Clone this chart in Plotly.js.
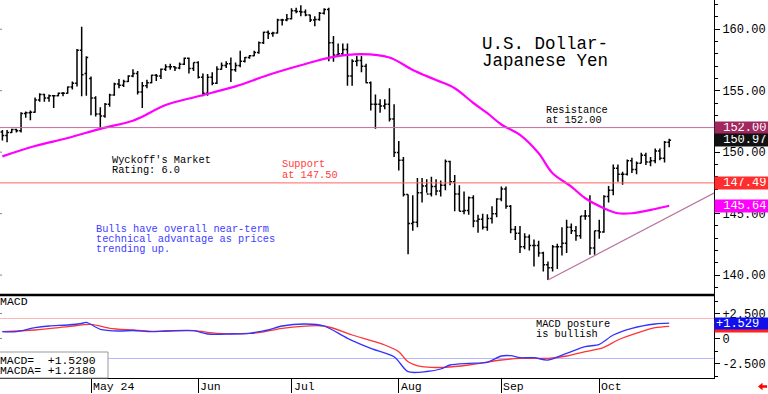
<!DOCTYPE html>
<html><head><meta charset="utf-8">
<script src="https://cdn.plot.ly/plotly-3.0.1.min.js"></script>
<style>html,body{margin:0;padding:0;background:#fff;overflow:hidden}#chart{width:768px;height:394px}</style>
</head><body><div id="chart"></div>
<script>
// ---------- DATA ----------
const firstDay = '2024-04-04';
const lastDay  = '2024-10-22';

const opens = [
151.65,151.35,151.60,151.85,151.75,153.15,153.20,153.25,154.25,154.70,154.40,154.60,154.60,154.80,154.80,155.30,155.60,158.30,156.40,
156.00,154.40,153.10,152.95,153.90,154.65,155.55,155.45,155.75,156.20,156.40,154.90,155.40,155.65,156.25,156.20,156.75,156.95,156.95,156.85,157.15,157.65,156.80,
157.30,156.10,154.80,156.10,155.60,156.75,157.05,157.20,156.70,157.05,157.40,157.70,157.85,158.10,158.90,159.75,159.65,159.70,160.75,160.75,
160.85,161.50,161.45,161.40,161.15,160.75,160.80,161.30,161.60,158.90,157.90,158.00,158.35,156.20,157.40,157.45,157.00,155.65,153.90,153.90,153.75,153.90,152.70,
149.98,149.35,146.55,144.20,144.30,146.70,147.25,146.60,147.20,146.85,147.30,149.25,147.60,146.60,145.20,145.25,146.30,144.40,144.55,143.90,144.60,145.00,
146.20,147.00,145.60,143.70,143.40,142.30,143.10,142.40,142.40,141.80,140.85,140.60,142.30,142.30,142.60,143.90,143.60,143.20,144.80,144.80,142.20,
143.60,143.50,146.40,146.90,148.70,148.20,148.20,149.30,148.60,149.10,149.75,149.20,149.30,150.10,149.50,150.80];
const highs = [
151.80,151.80,151.90,151.90,153.25,153.30,153.40,154.45,154.80,154.75,154.70,154.65,154.85,154.90,155.35,155.75,158.40,160.20,157.80,
156.15,154.55,153.65,154.00,154.75,155.65,155.95,155.90,156.25,156.75,156.60,155.70,155.90,156.30,156.35,156.80,157.15,157.20,157.00,157.30,157.70,157.70,157.30,
157.40,156.40,156.35,156.50,157.00,157.30,157.40,157.70,157.30,158.25,157.75,157.90,158.25,159.00,159.80,159.90,159.80,160.85,160.85,161.25,
161.70,161.75,161.95,161.60,161.20,161.05,161.40,161.70,161.75,159.45,158.85,158.85,158.85,157.55,157.85,157.85,157.20,155.75,154.70,154.30,154.30,155.20,153.90,
150.90,149.60,146.55,146.50,147.90,147.90,147.80,148.00,147.80,147.70,149.40,149.30,148.15,147.30,146.80,146.40,146.50,144.90,145.00,144.95,145.60,146.25,
147.20,147.20,145.70,144.00,144.00,143.40,143.30,142.90,142.80,141.90,141.10,142.45,142.55,143.90,144.50,144.20,144.00,144.80,145.30,146.50,143.60,
144.50,146.50,147.25,149.00,149.00,148.40,149.40,149.55,149.25,149.95,149.95,149.60,150.30,150.30,150.90,151.10];
const lows = [
150.95,150.80,151.55,151.60,151.60,152.80,152.60,153.20,154.10,154.10,154.10,153.60,154.55,154.55,154.75,155.10,155.35,154.55,154.60,
153.00,152.90,151.85,152.80,153.70,154.60,155.20,155.30,155.70,156.10,154.70,153.60,155.20,155.60,155.80,155.95,156.60,156.70,156.60,156.75,157.10,156.40,156.60,
156.00,154.55,154.60,155.45,155.55,156.70,156.85,155.70,156.55,156.90,157.30,157.60,157.80,158.00,158.80,159.20,159.40,159.65,160.30,160.65,
160.80,161.30,161.05,161.05,160.60,160.25,160.70,161.20,157.40,157.35,157.80,157.90,155.40,155.40,157.00,156.50,155.60,153.40,151.90,153.20,153.50,152.50,149.60,
148.50,146.40,141.70,143.60,143.90,145.90,146.70,146.40,146.50,146.40,146.90,147.30,145.20,145.20,144.95,144.90,143.90,143.45,143.70,143.60,144.20,144.70,
146.00,145.40,143.40,142.85,141.80,142.10,142.00,140.70,141.50,140.30,139.60,140.30,140.50,141.60,141.80,143.35,142.80,142.95,144.50,141.65,141.65,
142.95,143.45,145.90,146.50,147.60,147.35,148.10,148.30,148.20,149.10,148.95,148.85,149.10,149.35,149.15,150.40];
const closes = [
151.35,151.60,151.85,151.75,153.15,153.20,153.25,154.25,154.70,154.40,154.60,154.60,154.80,154.80,155.30,155.60,158.30,156.30,157.70,
154.40,153.10,152.95,153.90,154.65,155.55,155.45,155.75,156.20,156.40,154.90,155.40,155.65,156.25,156.20,156.75,156.95,156.95,156.85,157.15,157.65,156.80,157.30,
156.10,154.80,156.10,155.60,156.75,157.05,157.20,156.70,157.05,157.40,157.70,157.85,158.10,158.90,159.75,159.65,159.70,160.75,160.75,160.85,
161.50,161.45,161.40,161.15,160.75,160.80,161.30,161.60,158.90,157.90,158.00,158.35,156.20,157.40,157.45,157.00,155.65,153.90,153.90,153.75,153.90,152.70,149.98,
149.35,146.55,144.20,144.30,146.70,147.25,146.60,147.20,146.85,147.30,149.25,147.60,146.60,145.20,145.25,146.30,144.40,144.55,143.90,144.60,145.00,146.20,
147.00,145.60,143.70,143.40,142.30,143.10,142.40,142.40,141.80,140.85,140.60,142.30,142.30,142.60,143.90,143.60,143.20,144.80,144.80,142.20,143.60,
143.50,146.40,146.90,148.70,148.20,148.20,149.30,148.60,149.10,149.75,149.20,149.30,150.10,149.50,150.80,150.97];

// moving average (magenta) read at sample dates
const maDates = ['2024-04-04','2024-04-15','2024-04-24','2024-05-03','2024-05-14','2024-05-16','2024-05-23','2024-06-03','2024-06-13','2024-06-24','2024-07-03','2024-07-12','2024-07-22','2024-07-30','2024-08-06','2024-08-13','2024-08-19','2024-08-23','2024-08-28','2024-09-02','2024-09-06','2024-09-12','2024-09-17','2024-09-23','2024-09-26','2024-10-02','2024-10-07','2024-10-10','2024-10-17','2024-10-22'];
const maValues = [149.66,150.50,151.15,151.90,152.56,152.89,153.84,154.55,155.35,156.28,157.07,157.75,157.97,157.70,156.69,155.87,155.20,154.00,153.17,152.25,151.40,149.91,148.28,147.20,146.25,145.44,145.03,145.03,145.38,145.64];

// MACD (blue) and MACDA signal (red)
const macdDates = ['2024-04-04','2024-04-09','2024-04-15','2024-04-18','2024-04-24','2024-04-29','2024-04-30','2024-05-03','2024-05-09','2024-05-14','2024-05-20','2024-05-23','2024-05-31','2024-06-05','2024-06-12','2024-06-18','2024-06-20','2024-06-24','2024-06-27','2024-07-04','2024-07-10','2024-07-17','2024-07-24','2024-07-31','2024-08-05','2024-08-09','2024-08-14','2024-08-16','2024-08-22','2024-08-28','2024-09-02','2024-09-04','2024-09-06','2024-09-11','2024-09-16','2024-09-20','2024-09-26','2024-10-01','2024-10-04','2024-10-10','2024-10-17','2024-10-22'];
const macdValues = [0.68,0.68,1.08,1.25,1.35,1.50,1.62,0.92,0.75,0.80,0.68,0.75,0.78,0.45,0.45,0.52,0.68,0.85,1.25,1.45,1.25,0.02,-0.98,-1.82,-3.32,-3.30,-3.05,-2.65,-2.48,-2.38,-1.75,-1.72,-1.92,-1.92,-2.15,-1.48,-0.82,-0.58,0.35,1.02,1.45,1.529];
const signalDates = ['2024-04-04','2024-04-15','2024-04-24','2024-05-01','2024-05-07','2024-05-14','2024-05-20','2024-05-31','2024-06-07','2024-06-18','2024-06-20','2024-06-27','2024-07-10','2024-07-18','2024-07-29','2024-08-01','2024-08-05','2024-08-08','2024-08-15','2024-08-22','2024-09-02','2024-09-06','2024-09-16','2024-09-20','2024-09-26','2024-10-02','2024-10-07','2024-10-14','2024-10-17','2024-10-22'];
const signalValues = [0.68,0.85,1.18,1.42,1.02,0.85,0.72,0.78,0.52,0.52,0.58,1.02,1.25,0.35,-0.65,-1.32,-2.32,-2.82,-2.88,-2.65,-2.15,-1.98,-1.98,-1.75,-1.32,-0.88,-0.15,0.68,1.08,1.218];

const monthStarts = ['2024-05-01','2024-06-03','2024-07-01','2024-08-01','2024-09-02','2024-10-01'];
const monthLabels = ['May 24','Jun','Jul','Aug','Sep','Oct'];
const priceTicks = [140,145,150,155,160];
const macdTicks = [2.5,0,-2.5];
const macdTickLabels = ['+2.500','0','-2.500'];
const resistanceLevel = 152.00;
const supportLevel = 147.50;
const macdUpperLevel = 2;
const macdLowerLevel = -2;
const trendStart = ['2024-09-16', 139.60];
const trendEndPrice = 146.67;
const priceBoxValues = [152.00, 150.97, 147.49, 145.64];
const priceBoxLabels = ['152.00','150.97','147.49','145.64'];
const macdBoxValues = [1.218, 1.529];
const macdBoxLabels = ['', '+1.529'];

// ---------- build ----------
function weekdays(a,b){const out=[];let d=new Date(a+'T00:00:00Z');const e=new Date(b+'T00:00:00Z');
  while(d<=e){const w=d.getUTCDay();if(w!==0&&w!==6)out.push(d.toISOString().slice(0,10));d=new Date(d.getTime()+86400000);}return out;}
const dates = weekdays(firstDay,lastDay);
const ix = d => dates.indexOf(d);

const W=768,H=394,ML=0,MR=54,MT=0,MB=16;
const PW=W-ML-MR, PH=H-MT-MB;
const px = x => x/PW, py = y => 1 - y/PH;
const split = py(295);
const xRange = [-2.4/4.663, (PW-2.4)/4.663];
const MONO = 'Liberation Mono, DejaVu Sans Mono, monospace';
const NB = '\u00a0';

const traces = [
 {type:'ohlc', x:dates.map((d,i)=>i), open:opens, high:highs, low:lows, close:closes,
  increasing:{line:{color:'#000',width:1.5}}, decreasing:{line:{color:'#000',width:1.5}},
  tickwidth:0.4, hoverinfo:'skip', xaxis:'x', yaxis:'y'},
 {type:'scatter', mode:'lines', x:maDates.map(ix), y:maValues,
  line:{color:'#ff00ff',width:2.2,shape:'spline',smoothing:1}, hoverinfo:'skip', xaxis:'x', yaxis:'y'},
 {type:'scatter', mode:'lines', x:signalDates.map(ix), y:signalValues,
  line:{color:'#ff3333',width:1.3,shape:'spline',smoothing:0.8}, hoverinfo:'skip', xaxis:'x', yaxis:'y2'},
 {type:'scatter', mode:'lines', x:macdDates.map(ix), y:macdValues,
  line:{color:'#3333ff',width:1.3,shape:'spline',smoothing:0.8}, hoverinfo:'skip', xaxis:'x', yaxis:'y2'}
];

const shapes = [
 {type:'line',xref:'paper',x0:0,x1:1,yref:'y',y0:resistanceLevel,y1:resistanceLevel,line:{color:'#c86a9c',width:1}},
 {type:'line',xref:'paper',x0:0,x1:1,yref:'y',y0:supportLevel,y1:supportLevel,line:{color:'#ff6464',width:1}},
 {type:'line',xref:'x',x0:ix(trendStart[0]),x1:xRange[1],yref:'y',y0:trendStart[1],y1:trendEndPrice,line:{color:'#b8739c',width:1.2}},
 {type:'line',xref:'paper',x0:0,x1:1,yref:'y2',y0:macdUpperLevel,y1:macdUpperLevel,line:{color:'#ffb8b8',width:1},layer:'below'},
 {type:'line',xref:'paper',x0:0,x1:1,yref:'y2',y0:macdLowerLevel,y1:macdLowerLevel,line:{color:'#b8b8ff',width:1},layer:'below'},
 {type:'line',xref:'paper',x0:0,x1:1,yref:'paper',y0:split,y1:split,line:{color:'#000',width:2.5}},
 {type:'rect',xref:'paper',x0:px(-1),x1:px(108),yref:'paper',y0:0,y1:py(352),line:{color:'#999',width:1},fillcolor:'#fff'},
 {type:'path',xref:'paper',yref:'paper',fillcolor:'#ff0000',line:{width:0},
  path:`M ${px(758)} ${py(386.5)} L ${px(762.5)} ${py(382.8)} L ${px(762.5)} ${py(385.3)} L ${px(767)} ${py(385.3)} L ${px(767)} ${py(387.8)} L ${px(762.5)} ${py(387.8)} L ${px(762.5)} ${py(390.2)} Z`}
];
// faint left-edge tick marks
priceTicks.forEach(v=>shapes.push({type:'line',xref:'paper',x0:0,x1:px(2),yref:'y',y0:v,y1:v,line:{color:'#888',width:1}}));
[2.5,0].forEach(v=>shapes.push({type:'line',xref:'paper',x0:0,x1:px(2),yref:'y2',y0:v,y1:v,line:{color:'#888',width:1}}));

const ann = [];
function txt(t,x,y,size,color){ann.push({xref:'paper',yref:'paper',x:px(x),y:py(y),xanchor:'left',yanchor:'middle',
  text:t,showarrow:false,borderpad:0,font:{family:MONO,size:size,color:color||'#000'}});}
txt('U.S. Dollar-',481,43.5,17.5);
txt('Japanese Yen',481,61.5,17.5);
txt('Resistance',545,109.5,10.3);
txt('at 152.00',545,120,10.3);
txt("Wyckoff's Market",111,159.5,10.3);
txt('Rating: 6.0',111,170,10.3);
txt('Support',281,164,10.3,'#ff3d3d');
txt('at 147.50',281,174.5,10.3,'#ff3d3d');
txt('Bulls have overall near-term',95,228.5,10.3,'#3d3dff');
txt('technical advantage as prices',95,239,10.3,'#3d3dff');
txt('trending up.',95,249.5,10.3,'#3d3dff');
txt('MACD',-1,301.5,11.5);
txt('MACD posture',535,323.5,10.3);
txt('is bullish',535,333.5,10.3);
txt('MACD='+NB+NB+'+1.5290',-1,360.5,11.4);
txt('MACDA='+NB+'+1.2180',-1,370.5,11.4);

monthStarts.forEach((m,i)=>ann.push({xref:'x',yref:'paper',x:ix(m),y:0,xanchor:'left',yanchor:'top',xshift:1,yshift:-1,
  text:monthLabels[i],showarrow:false,borderpad:0,font:{family:MONO,size:11.5,color:'#000'}}));

const boxColors=['#a0285e','#111111','#ff2e2e','#ff00ff'];
priceBoxValues.forEach((v,i)=>ann.push({xref:'paper',yref:'y',x:1,y:v,xanchor:'left',yanchor:'middle',
  text:NB+priceBoxLabels[i],showarrow:false,bgcolor:boxColors[i],width:52,height:10,borderpad:1,align:'left',
  font:{family:MONO,size:12,color:'#fff'}}));
const macdBoxColors=['#ff2020','#1010ee'];
macdBoxValues.forEach((v,i)=>ann.push({xref:'paper',yref:'y2',x:1,y:v,xanchor:'left',yanchor:'middle',
  text:macdBoxLabels[i]||NB,showarrow:false,bgcolor:macdBoxColors[i],width:52,height:9,borderpad:1,align:'left',
  font:{family:MONO,size:12,color:'#fff'}}));

const layout = {
 width:W,height:H,margin:{l:ML,r:MR,t:MT,b:MB},paper_bgcolor:'#fff',plot_bgcolor:'#fff',showlegend:false,
 xaxis:{range:xRange,anchor:'y2',showgrid:false,zeroline:false,showline:true,linecolor:'#000',linewidth:1,
   tickvals:monthStarts.map(ix),ticks:'outside',ticklen:14,tickwidth:1,tickcolor:'#000',showticklabels:false,
   rangeslider:{visible:false},fixedrange:true},
 yaxis:{domain:[split,1],range:[138.38,162.38],side:'right',anchor:'x',showgrid:false,zeroline:false,
   showline:true,linecolor:'#000',linewidth:1,tickvals:priceTicks,ticktext:priceTicks.map(v=>v.toFixed(2)),
   ticks:'outside',ticklen:5,tickcolor:'#000',tickfont:{family:MONO,size:12,color:'#000'},
   minor:{dtick:1,ticks:'outside',ticklen:3,tickcolor:'#000'},fixedrange:true},
 yaxis2:{domain:[0,split],range:[-3.95,4.35],side:'right',anchor:'x',showgrid:false,zeroline:false,
   showline:true,linecolor:'#000',linewidth:1,tickvals:macdTicks,ticktext:macdTickLabels,
   ticks:'outside',ticklen:5,tickcolor:'#000',tickfont:{family:MONO,size:12,color:'#000'},
   minor:{dtick:1.25,ticks:'outside',ticklen:3,tickcolor:'#000'},fixedrange:true},
 shapes:shapes,annotations:ann
};
Plotly.newPlot('chart',traces,layout,{staticPlot:true,displayModeBar:false});
</script></body></html>
